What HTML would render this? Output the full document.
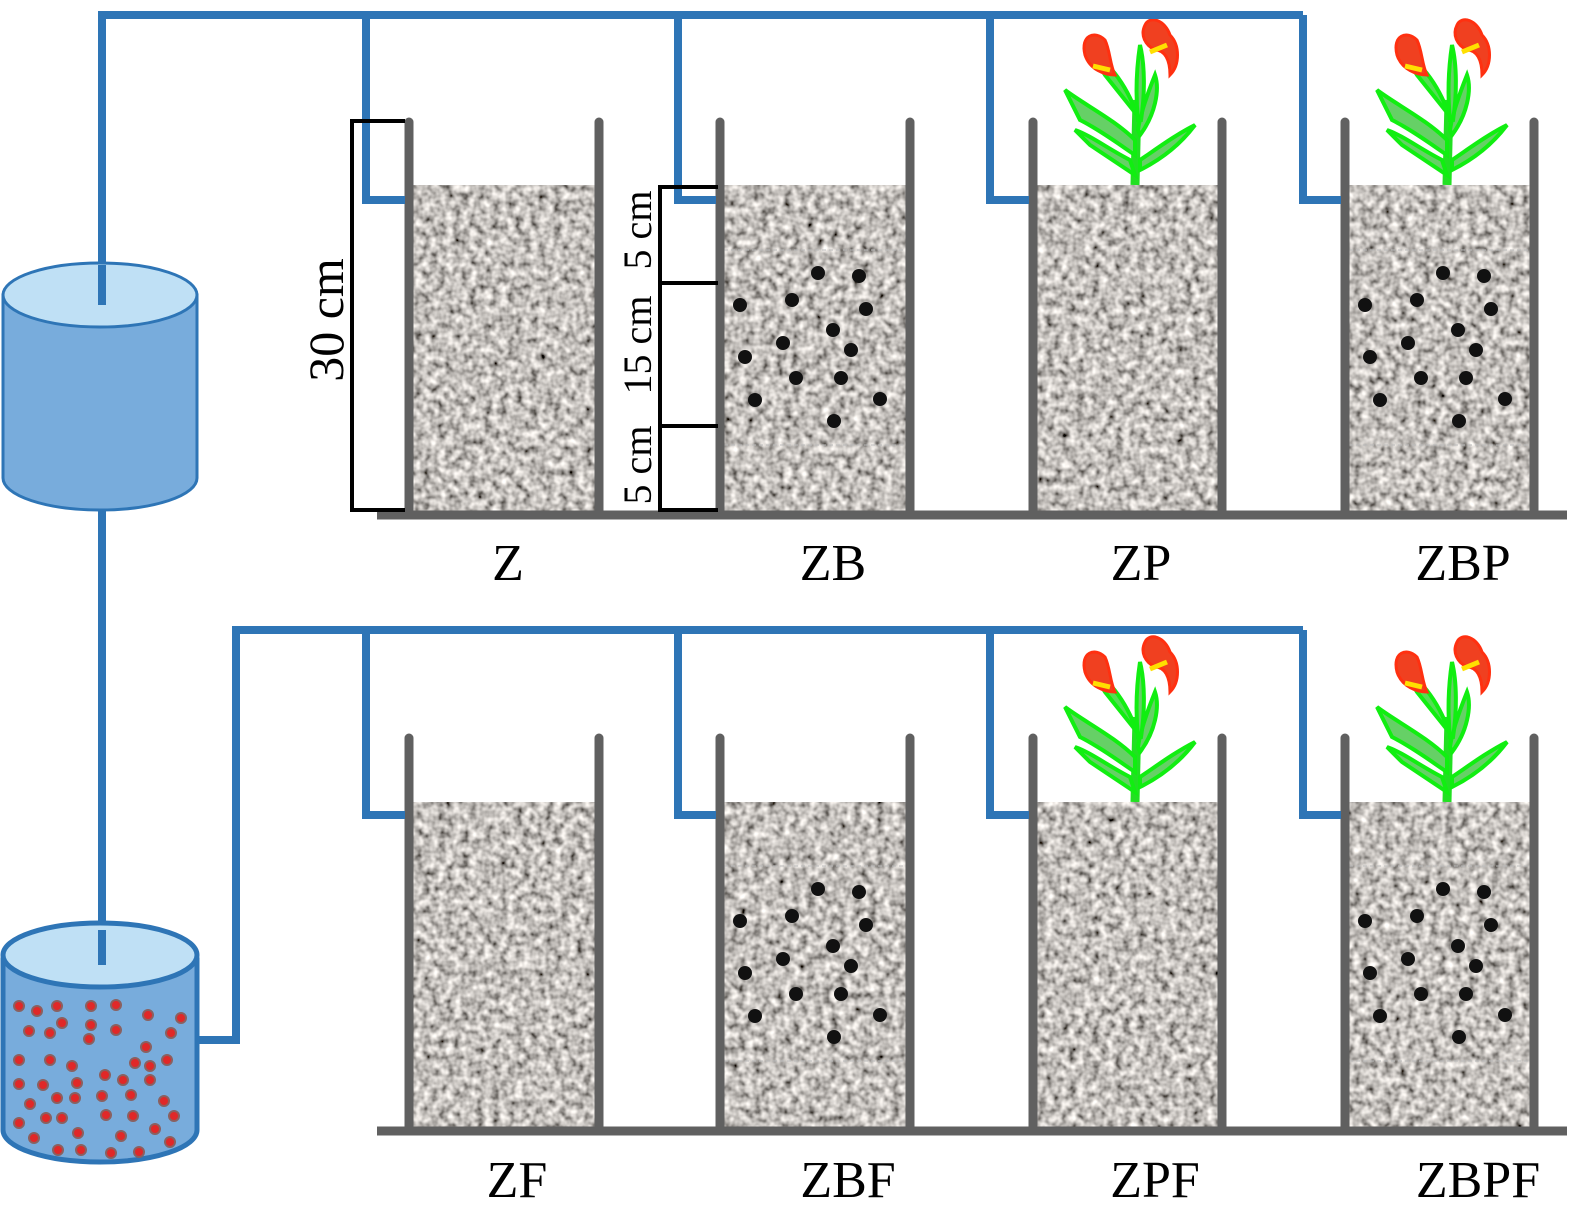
<!DOCTYPE html>
<html><head><meta charset="utf-8"><style>html,body{margin:0;padding:0;background:#fff}svg{display:block}text{font-family:"Liberation Serif","Times New Roman",serif}</style></head>
<body>
<svg width="1575" height="1218" viewBox="0 0 1575 1218" xmlns="http://www.w3.org/2000/svg">
<defs>
<filter id="grav" x="0" y="0" width="1" height="1" filterUnits="objectBoundingBox">
<feTurbulence type="fractalNoise" baseFrequency="0.13" numOctaves="2" seed="3"/>
<feColorMatrix values="1.5 0 0 0 -0.2  1.45 0 0 0 -0.2  1.4 0 0 0 -0.2  0 0 0 0 1"/>
</filter>
<g id="flower">
<path d="M0,165 L2,80" stroke="#22e022" stroke-width="9" fill="none"/>
<path d="M2,95 C-10,60 -30,40 -45,30 L-30,55 Z" fill="#55dd55" stroke="#11ee11" stroke-width="4"/>
<path d="M0,120 C-20,100 -50,85 -70,70 L-55,100 C-35,110 -15,125 0,135Z" fill="#66d066" stroke="#11ee11" stroke-width="4"/>
<path d="M-5,140 C-25,130 -45,115 -60,110 L-45,125 C-30,135 -15,145 0,155Z" fill="#66d066" stroke="#11ee11" stroke-width="4"/>
<path d="M5,115 C20,95 25,70 20,55 C12,75 5,95 3,110Z" fill="#66d066" stroke="#11ee11" stroke-width="4"/>
<path d="M5,150 C25,140 45,125 60,105 C40,115 20,130 5,140Z" fill="#66d066" stroke="#11ee11" stroke-width="4"/>
<path d="M3,100 C0,70 2,45 5,25 C10,45 10,75 6,100Z" fill="#66d066" stroke="#11ee11" stroke-width="4"/>
<path d="M-30,20 C-40,10 -55,15 -50,35 C-45,50 -30,55 -20,55 C-25,45 -25,30 -30,20Z" fill="#f04020" stroke="#ff3010" stroke-width="3"/>
<path d="M-42,46 L-25,50" stroke="#ffe000" stroke-width="5"/>
<path d="M10,5 C15,-5 30,0 35,15 C45,25 45,45 35,55 C35,40 30,30 20,30 C10,25 5,15 10,5Z" fill="#f04020" stroke="#ff3010" stroke-width="3"/>
<path d="M15,32 L32,25" stroke="#ffe000" stroke-width="5"/>
</g>
<g id="dots" fill="#111">
<circle cx="740" cy="305" r="7"/><circle cx="792" cy="300" r="7"/><circle cx="818" cy="273" r="7"/><circle cx="859" cy="276" r="7"/><circle cx="866" cy="309" r="7"/><circle cx="833" cy="330" r="7"/><circle cx="851" cy="350" r="7"/><circle cx="783" cy="343" r="7"/><circle cx="745" cy="357" r="7"/><circle cx="796" cy="378" r="7"/><circle cx="841" cy="378" r="7"/><circle cx="755" cy="400" r="7"/><circle cx="880" cy="399" r="7"/><circle cx="834" cy="421" r="7"/>
</g>
</defs>

<rect filter="url(#grav)" x="413" y="185" width="183" height="326"/><rect filter="url(#grav)" x="724" y="185" width="183" height="326"/><rect filter="url(#grav)" x="1037" y="185" width="183" height="326"/><rect filter="url(#grav)" x="1349" y="185" width="183" height="326"/>
<rect filter="url(#grav)" x="413" y="802" width="183" height="326"/><rect filter="url(#grav)" x="724" y="802" width="183" height="326"/><rect filter="url(#grav)" x="1037" y="802" width="183" height="326"/><rect filter="url(#grav)" x="1349" y="802" width="183" height="326"/>
<g stroke="#bbb" stroke-width="1" stroke-dasharray="4 3">
<line x1="724" y1="250" x2="907" y2="250"/><line x1="724" y1="445" x2="907" y2="445"/>
<line x1="1349" y1="250" x2="1532" y2="250"/><line x1="1349" y1="445" x2="1532" y2="445"/>
<line x1="724" y1="866" x2="907" y2="866"/><line x1="724" y1="1061" x2="907" y2="1061"/>
<line x1="1349" y1="866" x2="1532" y2="866"/><line x1="1349" y1="1061" x2="1532" y2="1061"/>
</g>
<use href="#dots"/><use href="#dots" transform="translate(625,0)"/><use href="#dots" transform="translate(0,616)"/><use href="#dots" transform="translate(625,616)"/>

<g stroke="#606060" stroke-width="9" stroke-linecap="round">
<line x1="409" y1="122" x2="409" y2="512"/><line x1="599" y1="122" x2="599" y2="512"/>
<line x1="720" y1="122" x2="720" y2="512"/><line x1="910" y1="122" x2="910" y2="512"/>
<line x1="1033" y1="122" x2="1033" y2="512"/><line x1="1222" y1="122" x2="1222" y2="512"/>
<line x1="1345" y1="122" x2="1345" y2="512"/><line x1="1534" y1="122" x2="1534" y2="512"/>
<line x1="409" y1="738" x2="409" y2="1128"/><line x1="599" y1="738" x2="599" y2="1128"/>
<line x1="720" y1="738" x2="720" y2="1128"/><line x1="910" y1="738" x2="910" y2="1128"/>
<line x1="1033" y1="738" x2="1033" y2="1128"/><line x1="1222" y1="738" x2="1222" y2="1128"/>
<line x1="1345" y1="738" x2="1345" y2="1128"/><line x1="1534" y1="738" x2="1534" y2="1128"/>
</g>
<g stroke="#606060" stroke-width="9">
<line x1="377" y1="515" x2="1567" y2="515"/><line x1="377" y1="1131" x2="1567" y2="1131"/>
</g>

<use href="#flower" transform="translate(1135,20)"/><use href="#flower" transform="translate(1447,20)"/>
<use href="#flower" transform="translate(1135,637)"/><use href="#flower" transform="translate(1447,637)"/>

<g stroke="#2E75B6" stroke-width="8" fill="none">
<polyline points="102,305 102,15 1303,15"/>
<polyline points="366,15 366,200 405,200"/><polyline points="678,15 678,200 716,200"/><polyline points="990,15 990,200 1029,200"/><polyline points="1303,15 1303,200 1341,200"/>
<line x1="102" y1="510" x2="102" y2="962"/>
<polyline points="197,1040 236,1040 236,630 1303,630"/>
<polyline points="366,630 366,815 405,815"/><polyline points="678,630 678,815 716,815"/><polyline points="990,630 990,815 1029,815"/><polyline points="1303,630 1303,815 1341,815"/>
</g>

<g stroke="#2E75B6" stroke-width="3">
<path d="M3,295 L3,478 A97,32 0 0 0 197,478 L197,295 Z" fill="#78acdc"/>
<ellipse cx="100" cy="295" rx="97" ry="32" fill="#bfe0f5"/>
</g>
<line x1="102" y1="265" x2="102" y2="305" stroke="#2E75B6" stroke-width="8"/>

<g stroke="#2E75B6" stroke-width="5">
<path d="M3,960 L3,1130 A97,32 0 0 0 197,1130 L197,960 Z" fill="#78acdc"/>
<ellipse cx="100" cy="955" rx="97" ry="32" fill="#bfe0f5"/>
</g>
<line x1="102" y1="930" x2="102" y2="965" stroke="#2E75B6" stroke-width="8"/>
<g fill="#e02828" stroke="#8a6060" stroke-width="2">
<circle cx="19" cy="1006" r="5"/><circle cx="37" cy="1011" r="5"/><circle cx="57" cy="1006" r="5"/><circle cx="91" cy="1006" r="5"/><circle cx="116" cy="1005" r="5"/><circle cx="148" cy="1015" r="5"/><circle cx="181" cy="1018" r="5"/><circle cx="29" cy="1031" r="5"/><circle cx="50" cy="1033" r="5"/><circle cx="62" cy="1023" r="5"/><circle cx="91" cy="1025" r="5"/><circle cx="89" cy="1039" r="5"/><circle cx="116" cy="1030" r="5"/><circle cx="146" cy="1047" r="5"/><circle cx="171" cy="1033" r="5"/><circle cx="19" cy="1060" r="5"/><circle cx="50" cy="1060" r="5"/><circle cx="72" cy="1066" r="5"/><circle cx="105" cy="1075" r="5"/><circle cx="135" cy="1063" r="5"/><circle cx="150" cy="1066" r="5"/><circle cx="123" cy="1080" r="5"/><circle cx="150" cy="1080" r="5"/><circle cx="167" cy="1060" r="5"/><circle cx="19" cy="1084" r="5"/><circle cx="43" cy="1085" r="5"/><circle cx="77" cy="1083" r="5"/><circle cx="75" cy="1098" r="5"/><circle cx="57" cy="1098" r="5"/><circle cx="102" cy="1096" r="5"/><circle cx="131" cy="1095" r="5"/><circle cx="164" cy="1101" r="5"/><circle cx="30" cy="1104" r="5"/><circle cx="62" cy="1118" r="5"/><circle cx="106" cy="1115" r="5"/><circle cx="78" cy="1133" r="5"/><circle cx="133" cy="1116" r="5"/><circle cx="174" cy="1116" r="5"/><circle cx="19" cy="1123" r="5"/><circle cx="46" cy="1118" r="5"/><circle cx="155" cy="1129" r="5"/><circle cx="170" cy="1142" r="5"/><circle cx="34" cy="1138" r="5"/><circle cx="58" cy="1150" r="5"/><circle cx="81" cy="1150" r="5"/><circle cx="111" cy="1153" r="5"/><circle cx="139" cy="1152" r="5"/><circle cx="121" cy="1136" r="5"/>
</g>

<g stroke="#000" stroke-width="4" fill="none">
<polyline points="405,121 352,121 352,510 405,510"/>
<line x1="660" y1="187" x2="660" y2="510"/>
<line x1="658" y1="187" x2="718" y2="187"/><line x1="658" y1="283" x2="718" y2="283"/><line x1="658" y1="426" x2="718" y2="426"/><line x1="658" y1="510" x2="718" y2="510"/>
</g>
<g fill="#000" text-anchor="middle">
<text transform="translate(343,320) rotate(-90)" font-size="50">30 cm</text>
<text transform="translate(651,230) rotate(-90)" font-size="40">5 cm</text>
<text transform="translate(651,345) rotate(-90)" font-size="40">15 cm</text>
<text transform="translate(651,465) rotate(-90)" font-size="40">5 cm</text>
</g>

<g fill="#000" font-size="52" text-anchor="middle">
<text x="508" y="580">Z</text><text x="833" y="580">ZB</text><text x="1141" y="580">ZP</text><text x="1463" y="580">ZBP</text>
<text x="517" y="1197">ZF</text><text x="848" y="1197">ZBF</text><text x="1155" y="1197">ZPF</text><text x="1478" y="1197">ZBPF</text>
</g>
</svg>
</body></html>
